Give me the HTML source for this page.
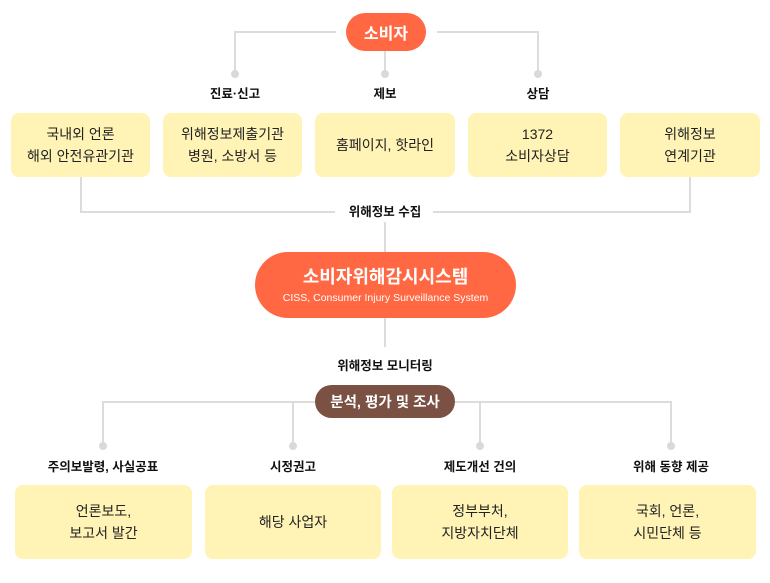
<!DOCTYPE html>
<html><head><meta charset="utf-8">
<style>
*{margin:0;padding:0;box-sizing:border-box}
html,body{width:770px;height:583px;background:#fff;overflow:hidden}
body{position:relative;font-family:"Liberation Sans","Noto Sans CJK KR",sans-serif;color:#222}
.l{position:absolute;background:#dcdcdc}
.d{position:absolute;width:8px;height:8px;border-radius:50%;background:#d9d9d9}
.box{position:absolute;background:#fff3b6;border-radius:8px;display:flex;align-items:center;justify-content:center;text-align:center;font-size:14px;line-height:22px;color:#222}
.lb{position:absolute;font-weight:bold;font-size:12.5px;color:#111;text-align:center;white-space:nowrap;transform:translateX(-50%);line-height:16px}
.lbw{position:absolute;font-weight:bold;font-size:12.5px;color:#111;white-space:nowrap;line-height:16px;background:#fff;padding:0 10px;transform:translateX(-50%)}
</style></head><body>
<!-- top connectors -->
<div class="l" style="left:235px;top:31px;width:101px;height:2px"></div>
<div class="l" style="left:437px;top:31px;width:102px;height:2px"></div>
<div class="l" style="left:234px;top:31px;width:2px;height:43px"></div>
<div class="l" style="left:537px;top:31px;width:2px;height:43px"></div>
<div class="l" style="left:384px;top:50px;width:2px;height:24px"></div>
<div class="d" style="left:231px;top:70px"></div>
<div class="d" style="left:381px;top:70px"></div>
<div class="d" style="left:534px;top:70px"></div>
<div style="position:absolute;left:346px;top:13px;width:80px;height:38px;border-radius:19px;background:#ff6842;color:#fff;font-weight:bold;font-size:16px;display:flex;align-items:center;justify-content:center">소비자</div>
<div class="lb" style="left:235px;top:86px">진료·신고</div>
<div class="lb" style="left:385px;top:86px">제보</div>
<div class="lb" style="left:538px;top:86px">상담</div>
<!-- row1 boxes -->
<div class="box" style="left:11px;top:113px;width:139px;height:64px">국내외 언론<br>해외 안전유관기관</div>
<div class="box" style="left:163px;top:113px;width:139px;height:64px">위해정보제출기관<br>병원, 소방서 등</div>
<div class="box" style="left:315px;top:113px;width:140px;height:64px">홈페이지, 핫라인</div>
<div class="box" style="left:468px;top:113px;width:139px;height:64px">1372<br>소비자상담</div>
<div class="box" style="left:620px;top:113px;width:140px;height:64px">위해정보<br>연계기관</div>
<!-- collection lines -->
<div class="l" style="left:80px;top:177px;width:2px;height:35px"></div>
<div class="l" style="left:80px;top:211px;width:255px;height:2px"></div>
<div class="l" style="left:433px;top:211px;width:258px;height:2px"></div>
<div class="l" style="left:689px;top:177px;width:2px;height:35px"></div>
<div class="lb" style="left:385px;top:204px">위해정보 수집</div>
<div class="l" style="left:384px;top:222px;width:2px;height:31px"></div>
<!-- big pill -->
<div style="position:absolute;left:255px;top:252px;width:261px;height:66px;border-radius:33px;background:#ff6842;color:#fff;text-align:center">
<div style="font-weight:bold;font-size:18px;line-height:20px;margin-top:15px">소비자위해감시시스템</div>
<div style="font-size:10.5px;line-height:14px;margin-top:4px">CISS, Consumer Injury Surveillance System</div>
</div>
<div class="l" style="left:384px;top:318px;width:2px;height:29px"></div>
<div class="lb" style="left:385px;top:358px">위해정보 모니터링</div>
<!-- bottom connectors -->
<div class="l" style="left:103px;top:401px;width:212px;height:2px"></div>
<div class="l" style="left:455px;top:401px;width:217px;height:2px"></div>
<div class="l" style="left:102px;top:401px;width:2px;height:45px"></div>
<div class="l" style="left:292px;top:401px;width:2px;height:45px"></div>
<div class="l" style="left:479px;top:401px;width:2px;height:45px"></div>
<div class="l" style="left:670px;top:401px;width:2px;height:45px"></div>
<div class="d" style="left:99px;top:442px"></div>
<div class="d" style="left:289px;top:442px"></div>
<div class="d" style="left:476px;top:442px"></div>
<div class="d" style="left:667px;top:442px"></div>
<div style="position:absolute;left:315px;top:385px;width:140px;height:33px;border-radius:16.5px;background:#7b5143;color:#fff;font-weight:bold;font-size:14.5px;display:flex;align-items:center;justify-content:center">분석, 평가 및 조사</div>
<div class="lb" style="left:103px;top:459px">주의보발령, 사실공표</div>
<div class="lb" style="left:293px;top:459px">시정권고</div>
<div class="lb" style="left:480px;top:459px">제도개선 건의</div>
<div class="lb" style="left:671px;top:459px">위해 동향 제공</div>
<!-- bottom boxes -->
<div class="box" style="left:15px;top:485px;width:177px;height:74px">언론보도,<br>보고서 발간</div>
<div class="box" style="left:205px;top:485px;width:176px;height:74px">해당 사업자</div>
<div class="box" style="left:392px;top:485px;width:176px;height:74px">정부부처,<br>지방자치단체</div>
<div class="box" style="left:579px;top:485px;width:177px;height:74px">국회, 언론,<br>시민단체 등</div>
</body></html>
